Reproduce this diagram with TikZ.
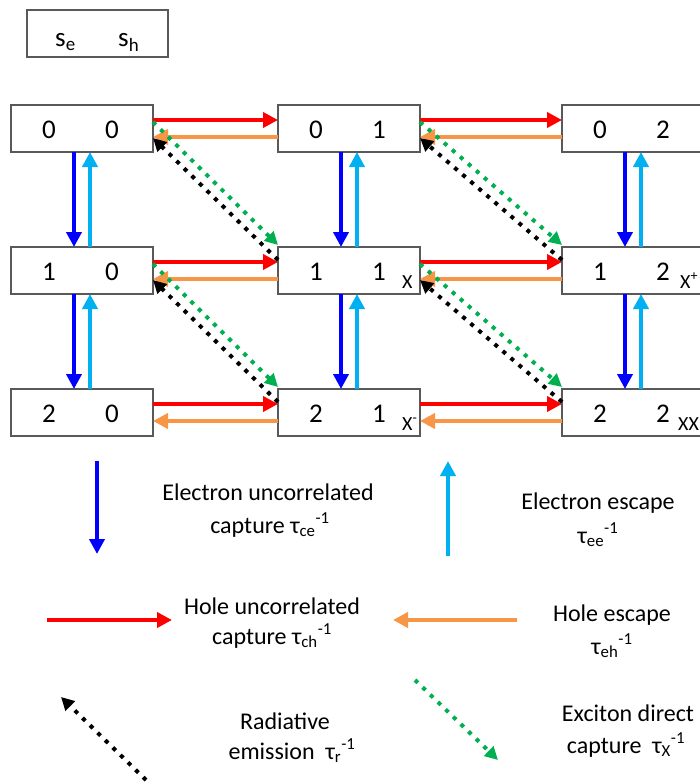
\documentclass[tikz,border=0pt]{standalone}
\usepackage{fontspec}
\setmainfont{Carlito}
\usetikzlibrary{arrows.meta,calc}
\definecolor{cred}{RGB}{255,0,0}
\definecolor{corange}{RGB}{247,150,70}
\definecolor{cblue}{RGB}{0,0,255}
\definecolor{ccyan}{RGB}{0,176,240}
\definecolor{cgreen}{RGB}{0,176,80}
\definecolor{cgray}{RGB}{89,89,89}
\begin{document}
\begin{tikzpicture}[x=1pt,y=-1pt,
  statebox/.style={draw=cgray,line width=1.2pt,minimum width=142pt,minimum height=47pt,inner sep=0pt,outer sep=0pt,anchor=north west},
  digit/.style={font=\fontsize{27}{31}\selectfont,inner sep=0pt,anchor=base},
  tag/.style={font=\fontsize{20}{24}\selectfont,inner sep=0pt,anchor=base west},
  legtext/.style={font=\fontsize{24}{28}\selectfont,inner sep=0pt,anchor=base},
  arr/.style={line width=4.5pt,-{Triangle[length=15pt,width=15pt]}},
  capH/.style={arr,draw=cred},
  escH/.style={arr,draw=corange},
  capE/.style={arr,draw=cblue},
  escE/.style={arr,draw=ccyan},
  dots/.style={line width=4pt,dash pattern=on 4pt off 6.6pt,-{Triangle[length=13pt,width=13pt]}},
  radE/.style={dots,draw=black},
  excC/.style={dots,draw=cgreen}]
\useasboundingbox (0,0) rectangle (700,784);
\clip (0,0) rectangle (700,784);
% key box
\node[statebox,minimum width=141pt] (key) at (27,10) {};
\node[font=\fontsize{27}{31}\selectfont,inner sep=0pt,anchor=base west] (kse) at (55,47) {s\textsubscript{e}};
\node[font=\fontsize{27}{31}\selectfont,inner sep=0pt,anchor=base west] (ksh) at (118,47) {s\textsubscript{h}};
% state boxes
\foreach \r/\t in {0/105,1/247,2/389}{
  \foreach \c/\l in {0/11,1/278,2/562}{
    \node[statebox] (b\r\c) at (\l,\t) {};
    \node[digit] (e\r\c) at (\l+38,\t+33) {\r};
    \node[digit] (h\r\c) at (\l+101,\t+33) {\c};
  }
}
\node[tag] (tX) at (402,288) {X};
\node[tag] (tXp) at (680,288) {X\textsuperscript{+}};
\node[tag] (tXm) at (402,430) {X\textsuperscript{-}};
\node[tag] (tXX) at (678,430) {XX};
% horizontal
\foreach \r in {0,1,2}{
  \foreach \c/\d in {0/1,1/2}{
    \draw[capH] ($(b\r\c.north east)+(0,15)$) -- ($(b\r\d.north west)+(0,15)$);
    \draw[escH] ($(b\r\d.north west)+(0,32)$) -- ($(b\r\c.north east)+(0,32)$);
  }
}
% vertical
\foreach \r/\s in {0/1,1/2}{
  \foreach \c in {0,1,2}{
    \draw[capE] ($(b\r\c.south west)+(63,0)$) -- ($(b\s\c.north west)+(63,0)$);
    \draw[escE] ($(b\s\c.north west)+(79,0)$) -- ($(b\r\c.south west)+(79,0)$);
  }
}
% diagonals
\foreach \r/\s in {0/1,1/2}{
  \foreach \c/\d in {0/1,1/2}{
    \draw[radE] ($(b\s\d.north west)+(0,13)$) -- ($(b\r\c.north east)+(0,33)$);
    \draw[excC] ($(b\r\c.north east)+(0,17)$) -- ($(b\s\d.north west)+(0,-2)$);
  }
}
% legend
\coordinate (lb1) at (97,461); \coordinate (lb2) at (97,554);
\coordinate (lc1) at (448,556); \coordinate (lc2) at (448,461);
\coordinate (lr1) at (47,620); \coordinate (lr2) at (172,620);
\coordinate (lo1) at (517,620); \coordinate (lo2) at (393,620);
\coordinate (lk1) at (146,780); \coordinate (lk2) at (61,697);
\coordinate (lg1) at (415,680); \coordinate (lg2) at (498,760);
\draw[capE] (lb1) -- (lb2);
\draw[escE] (lc1) -- (lc2);
\draw[capH] (lr1) -- (lr2);
\draw[escH] (lo1) -- (lo2);
\draw[radE] (lk1) -- (lk2);
\draw[excC] (lg1) -- (lg2);
\node[legtext] (eu1) at (268,500) {Electron uncorrelated};
\node[legtext] (eu2) at (270,533) {capture τ\textsubscript{ce}\textsuperscript{-1}};
\node[legtext] (ee1) at (598,509) {Electron escape};
\node[legtext] (ee2) at (598,543) {τ\textsubscript{ee}\textsuperscript{-1}};
\node[legtext] (hu1) at (272,614) {Hole uncorrelated};
\node[legtext] (hu2) at (272,644) {capture τ\textsubscript{ch}\textsuperscript{-1}};
\node[legtext] (he1) at (612,621) {Hole escape};
\node[legtext] (he2) at (612,654) {τ\textsubscript{eh}\textsuperscript{-1}};
\node[legtext] (re1) at (285,729) {Radiative};
\node[legtext] (re2) at (292,759) {emission\ \ τ\textsubscript{r}\textsuperscript{-1}};
\node[legtext] (xd1) at (628,721) {Exciton direct};
\node[legtext] (xd2) at (626,753) {capture\ \ τ\textsubscript{X}\textsuperscript{-1}};
\end{tikzpicture}
\end{document}
